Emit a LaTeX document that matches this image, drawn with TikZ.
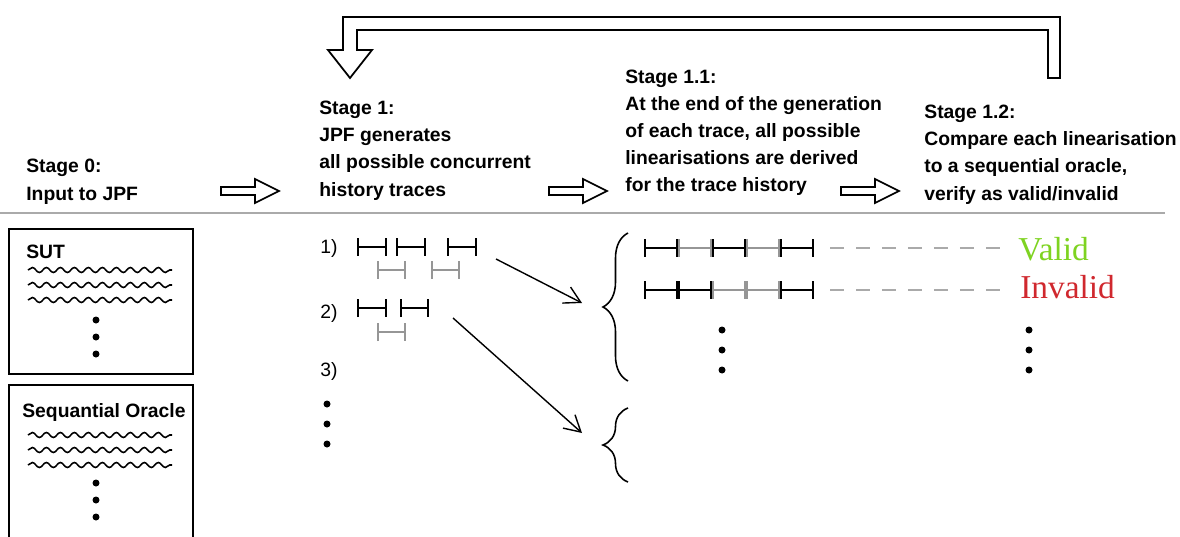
\documentclass[tikz,border=0pt]{standalone}
\usepackage{fontspec}
\setsansfont{Liberation Sans}
\newfontfamily\verdictfont{Liberation Serif}
\usetikzlibrary{arrows.meta}
\usetikzlibrary{decorations.pathmorphing}
\usetikzlibrary{decorations.pathreplacing}
\usetikzlibrary{positioning}

\definecolor{validgreen}{RGB}{126,211,33}
\definecolor{invalidred}{RGB}{208,40,46}
\definecolor{evgray}{RGB}{150,150,150}
\definecolor{rulegray}{RGB}{170,170,170}

\tikzset{
	stage/.style={font=\sffamily\bfseries\fontsize{11}{15.4}\selectfont, align=left, anchor=base west, inner sep=0},
	lbl/.style={font=\sffamily\fontsize{11}{14}\selectfont, anchor=base west, inner sep=0},
	verdict/.style={font=\verdictfont\fontsize{19}{20}\selectfont, anchor=west, inner sep=0},
	ev/.style={line width=1.2pt, {Bar[width=0.36cm]}-{Bar[width=0.36cm]}},
	wave/.style={decorate, decoration={snake, amplitude=0.05cm, segment length=0.28cm}, line width=0.9pt},
	dot/.style={circle, fill, inner sep=0, minimum size=0.14cm},
	hollow/.pic={\draw[line width=1pt] (0,-4) -- (34,-4) -- (34,-12) -- (58,0) -- (34,12) -- (34,4) -- (0,4) -- cycle;}
}

\begin{document}
\begin{tikzpicture}[x=0.02cm, y=-0.02cm]
\useasboundingbox (0,0) rectangle (1180,537);

% stages (anchored at the baseline of the last line)
\node[stage] (s0) at (26,200) {Stage 0:\\Input to JPF};
\node[stage] (s1) at (319,196) {Stage 1:\\JPF generates\\all possible concurrent\\history traces};
\node[stage] (s11) at (625,192) {Stage 1.1:\\At the end of the generation\\of each trace, all possible\\linearisations are derived\\for the trace history};
\node[stage] (s12) at (924,200) {Stage 1.2:\\Compare each linearisation\\to a sequential oracle,\\verify as valid/invalid};
\foreach \x in {221, 549, 841} {
	\pic at (\x,191) {hollow};
	};
\draw[line width=1pt] (1060,78) -- (1060,17) -- (343,17) -- (343,50) -- (328,50) -- (350,78)
	-- (372,50) -- (357,50) -- (357,30) -- (1048,30) -- (1048,78) -- cycle;
\draw[rulegray, line width=1pt] (0,213) -- (1165,213);

% inputs
\draw[line width=1.1pt] (9,229) rectangle (193,374);
\draw[line width=1.1pt] (9,537) -- (9,385) -- (193,385) -- (193,537);
\node[stage] (sut) at (26,258) {SUT};
\node[stage] (orc) at (22,417) {Sequantial Oracle};
\foreach \y in {270, 285, 300, 435, 450, 465} {
	\draw[wave] (28,\y) -- (172,\y);
	};
\foreach \y in {320, 337, 354, 483, 500, 517} {
	\node[dot] at (96,\y) {};
	};

% traces
\node[lbl] (t1) at (320,253) {1)};
\node[lbl] (t2) at (320,318) {2)};
\node[lbl] (t3) at (320,376) {3)};
\foreach \y in {404, 424, 444} {
	\node[dot] at (327,\y) {};
	};
\draw[ev] (357,247) -- (387,247);
\draw[ev] (396,247) -- (426,247);
\draw[ev] (447,247) -- (477,247);
\draw[ev, evgray] (377,270) -- (406,270);
\draw[ev, evgray] (431,270) -- (460,270);
\draw[ev] (357,308) -- (387,308);
\draw[ev] (400,308) -- (429,308);
\draw[ev, evgray] (377,332) -- (406,332);

\coordinate (e1) at (496,259);
\coordinate (e2) at (453,318);
\coordinate (b1) at (582,303);
\coordinate (b2) at (582,433);
\draw[line width=0.8pt, -{Straight Barb[length=0.32cm, width=0.36cm]}] (e1) -- (b1);
\draw[line width=0.8pt, -{Straight Barb[length=0.32cm, width=0.36cm]}] (e2) -- (b2);
\draw[line width=0.9pt, decorate, decoration={brace, amplitude=0.5cm}] (628,381) -- (628,233);
\draw[line width=0.9pt, decorate, decoration={brace, amplitude=0.5cm}] (628,482) -- (628,408);

% linearisations
\foreach \c [count=\i from 0] in {black, evgray, black, evgray, black} {
	\draw[ev, \c] (644+34*\i,248) -- (678+34*\i,248);
	};
\foreach \c [count=\i from 0] in {black, black, evgray, evgray, black} {
	\draw[ev, \c] (644+34*\i,290) -- (678+34*\i,290);
	};
\coordinate (r1) at (814,248);
\coordinate (r2) at (814,290);
\node[verdict, validgreen] (ok) at (1018,249) {Valid};
\node[verdict, invalidred] (bad) at (1020,287) {Invalid};
\draw[rulegray, line width=1.1pt, dash pattern=on 0.28cm off 0.24cm, shorten <=0.32cm, shorten >=0.26cm] (r1) -- (r1 -| ok.west);
\draw[rulegray, line width=1.1pt, dash pattern=on 0.28cm off 0.24cm, shorten <=0.32cm, shorten >=0.3cm] (r2) -- (r2 -| bad.west);
\foreach \y in {330, 350, 370} {
	\node[dot] at (722,\y) {};
	\node[dot] at (1029,\y) {};
	};
\end{tikzpicture}
\end{document}
